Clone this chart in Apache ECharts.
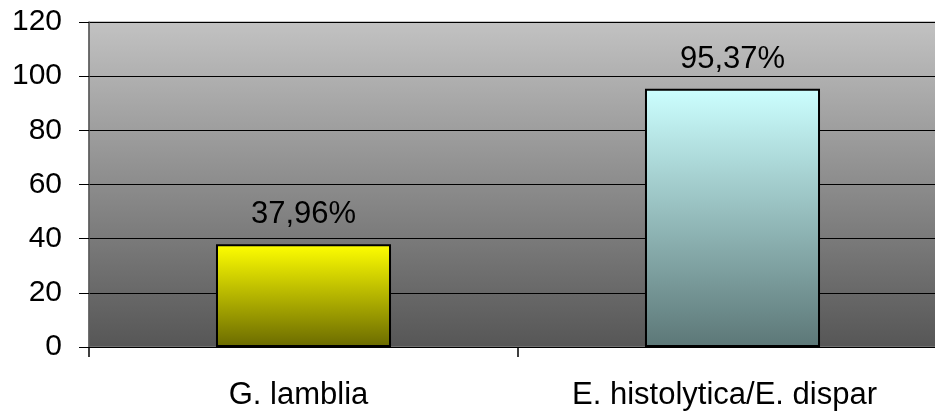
<!DOCTYPE html>
<html>
<head>
<meta charset="utf-8">
<style>
  html, body { margin: 0; padding: 0; background: #ffffff; overflow: hidden; }
  #chart { width: 947px; height: 411px; }
</style>
<script src="https://cdn.jsdelivr.net/npm/echarts@6/dist/echarts.min.js"></script>
</head>
<body>
<div id="chart"></div>
<script>
// Prevalence of intestinal protozoa (%)
const categories = ['G. lamblia', 'E. histolytica/E. dispar'];
const values = [37.96, 95.37];
const valueLabels = ['37,96%', '95,37%'];
const yTicks = [0, 20, 40, 60, 80, 100, 120];

const barFills = [
  ['#ffff00', '#6a6a00'],
  ['#ccffff', '#5c7777']
];

function vGrad(top, bottom) {
  return new echarts.graphic.LinearGradient(0, 0, 0, 1, [
    { offset: 0, color: top },
    { offset: 1, color: bottom }
  ]);
}

const chart = echarts.init(document.getElementById('chart'), null, { renderer: 'canvas' });

const font = '"Liberation Sans", Arial, sans-serif';

chart.setOption({
  animation: false,
  grid: {
    left: 89,
    top: 22,
    right: 0,
    bottom: 63,
    show: true,
    backgroundColor: vGrad('#c2c2c2', '#565656'),
    borderColor: '#8a8a8a',
    borderWidth: 1
  },
  xAxis: {
    type: 'category',
    data: categories,
    axisLine: { show: true, lineStyle: { color: '#000000', width: 1 } },
    axisTick: { show: true, interval: 0, length: 10, alignWithLabel: false, lineStyle: { color: '#000000', width: 1.5 } },
    axisLabel: {
      interval: 0,
      hideOverlap: false,
      color: '#000000',
      fontFamily: font,
      fontSize: 31,
      margin: 33,
      formatter: (v, i) => i === 0 ? '{a|' + v + '}' : '{b|' + v + '}',
      rich: {
        a: { fontFamily: font, fontSize: 31, color: '#000000', padding: [0, 10, 0, 0] },
        b: { fontFamily: font, fontSize: 31, color: '#000000', padding: [0, 16, 0, 0] }
      }
    }
  },
  yAxis: {
    type: 'value',
    min: yTicks[0],
    max: yTicks[yTicks.length - 1],
    interval: yTicks[1] - yTicks[0],
    axisLine: { show: true, lineStyle: { color: '#555555', width: 1.5 } },
    axisTick: { show: true, length: 10, lineStyle: { color: '#000000', width: 1 } },
    axisLabel: {
      color: '#000000',
      fontFamily: font,
      fontSize: 30,
      margin: 27
    },
    splitLine: { show: true, lineStyle: { color: '#000000', width: 1 } }
  },
  series: [{
    type: 'bar',
    barWidth: '40.8%',
    data: values.map((v, i) => ({
      value: v,
      itemStyle: {
        color: vGrad(barFills[i][0], barFills[i][1]),
        borderColor: '#000000',
        borderWidth: 2
      },
      label: { formatter: valueLabels[i] }
    })),
    label: {
      show: true,
      position: 'top',
      distance: 14,
      color: '#000000',
      fontFamily: font,
      fontSize: 31
    }
  }]
});
</script>
</body>
</html>
